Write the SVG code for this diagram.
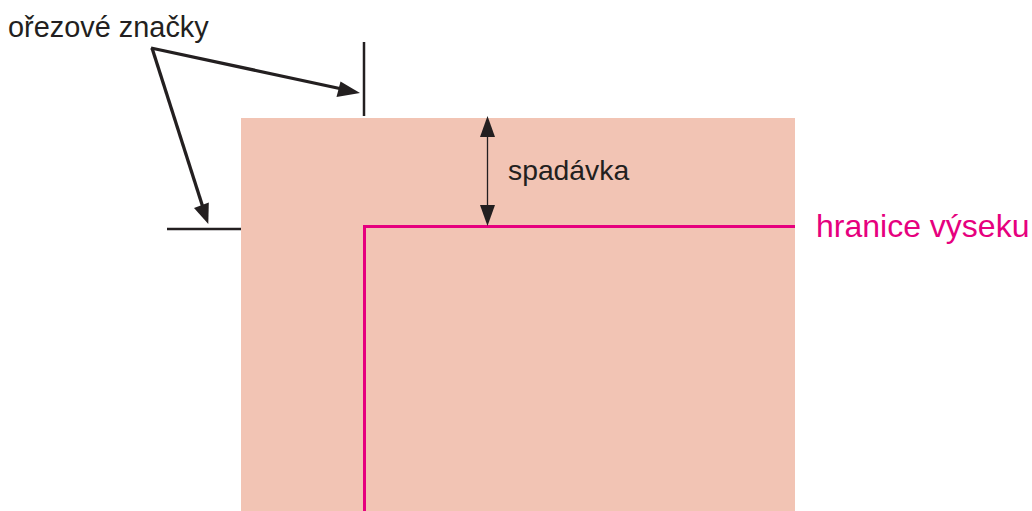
<svg xmlns="http://www.w3.org/2000/svg" width="1032" height="511" viewBox="0 0 1032 511">
<style>
.lbl{font-family:"Liberation Sans",Arial,sans-serif;fill:#231F20}
.mag{fill:#E6007E}
.mark{stroke:#231F20;stroke-width:2.5;fill:none}
.ptr{stroke:#231F20;stroke-width:3.3;fill:none}
.head{fill:#231F20}
</style>
<rect width="1032" height="511" fill="#FFFFFF"/>
<g id="bleed-area">
<rect x="241" y="118" width="554" height="393" fill="#F2C4B4"/>
</g>
<g id="trim-line">
<path d="M364.5 511 V226.5 H795" stroke="#E6007E" stroke-width="3" fill="none"/>
</g>
<g id="crop-marks">
<line class="mark" x1="364" y1="42" x2="364" y2="116"/>
<line class="mark" x1="167" y1="229" x2="241" y2="229"/>
</g>
<g id="connectors">
<line class="ptr" x1="151" y1="48" x2="342" y2="89"/>
<polygon class="head" points="360,93 336.5,97 340.5,81.5"/>
<line class="ptr" x1="152" y1="48" x2="202.5" y2="206"/>
<polygon class="head" points="208.3,224 194,208 208.8,202.5"/>
<line x1="487.5" y1="134" x2="487.5" y2="208" stroke="#231F20" stroke-width="1.3"/>
<polygon class="head" points="487.5,116 480,137 495,137"/>
<polygon class="head" points="487.5,226 480,205 495,205"/>
</g>
<g id="label-crop-marks">
<text class="lbl" x="8" y="37" font-size="28.9">ořezové značky</text>
</g>
<g id="label-bleed">
<text class="lbl" x="508" y="180" font-size="28.3">spadávka</text>
</g>
<g id="label-trim">
<text class="lbl mag" x="816" y="237" font-size="32">hranice výseku</text>
</g>
</svg>
